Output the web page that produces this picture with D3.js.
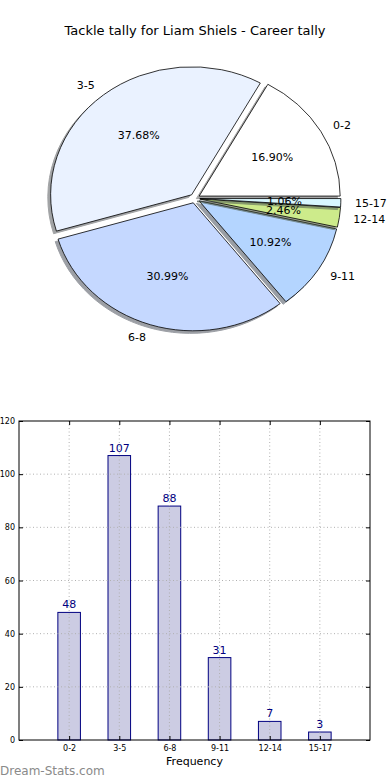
<!DOCTYPE html>
<html><head><meta charset="utf-8">
<script src="https://cdn.jsdelivr.net/npm/d3@7"></script>
<style>body{margin:0;background:#fff}svg{display:block;font-family:"DejaVu Sans",sans-serif}</style>
</head><body><svg id="c" width="390" height="780"></svg>
<script>
const categories = ["0-2","3-5","6-8","9-11","12-14","15-17"];
const counts = [48,107,88,31,7,3];
const sliceColors = ["#ffffff","#eaf2ff","#c5d8ff","#b4d5ff","#cdeb8b","#d8f7ff"];
const yTicks = [0,20,40,60,80,100,120];
const title = "Tackle tally for Liam Shiels - Career tally";
const xLabel = "Frequency";
const watermark = "Dream-Stats.com";

const svg = d3.select("#c");
svg.append("text").attr("x",195).attr("y",35).attr("text-anchor","middle")
  .attr("font-size",13).attr("fill","#000").text(title);

// ---- Pie ----
const cx = 194.8, cy = 198.4, rx = 141, ry = 128, expl = 0.036;
const sy = ry/rx;
const total = d3.sum(counts);
const pie = d3.pie().sort(null).startAngle(Math.PI/2).endAngle(Math.PI/2 - 2*Math.PI);
const arcs = pie(counts);
const arc = d3.arc().innerRadius(0).outerRadius(rx);
const g = svg.append("g").attr("transform",`translate(${cx},${cy}) scale(1,${sy})`);
function darken(c){const r=d3.rgb(c);return d3.rgb(r.r*0.3,r.g*0.3,r.b*0.3).toString();}
arcs.forEach((a,i)=>{
  const m=(a.startAngle+a.endAngle)/2;
  const ox=Math.sin(m)*expl*rx, oy=-Math.cos(m)*expl*rx;
  g.append("path").attr("d",arc(a))
    .attr("transform",`translate(${ox-0.02*rx},${oy+0.02*rx})`)
    .attr("fill",darken(sliceColors[i])).attr("stroke",darken(sliceColors[i]))
    .attr("opacity",0.5).attr("vector-effect","non-scaling-stroke");
  g.append("path").attr("d",arc(a))
    .attr("transform",`translate(${ox},${oy})`)
    .attr("fill",sliceColors[i]).attr("stroke","#000").attr("stroke-width",0.8)
    .attr("vector-effect","non-scaling-stroke");
});
const lg = svg.append("g").attr("transform",`translate(${cx},${cy})`);
arcs.forEach((a,i)=>{
  const m=(a.startAngle+a.endAngle)/2;
  const ox=Math.sin(m)*expl*rx, oy=-Math.cos(m)*expl*ry;
  const lx=ox+1.1*rx*Math.sin(m), ly=oy-1.1*ry*Math.cos(m);
  lg.append("text").attr("x",lx).attr("y",ly).attr("dy","0.35em")
    .attr("text-anchor",lx>0?"start":"end").attr("font-size",11).text(categories[i]);
  const px=ox+0.6*rx*Math.sin(m), py=oy-0.6*ry*Math.cos(m);
  lg.append("text").attr("x",px).attr("y",py).attr("dy","0.35em")
    .attr("text-anchor","middle").attr("font-size",11)
    .text((counts[i]/total*100).toFixed(2)+"%");
});

// ---- Bar chart ----
const L=19,R=370,T=421,B=740;
const x = d3.scaleLinear().domain([-1,6]).range([L,R]);
const y = d3.scaleLinear().domain([0,120]).range([B,T]);
const bw = (x(0.45)-x(0));
const bg = svg.append("g");
bg.selectAll("rect.bar").data(counts).enter().append("rect")
  .attr("x",(d,i)=>x(i)-bw/2).attr("y",d=>y(d))
  .attr("width",bw).attr("height",d=>B-y(d))
  .attr("fill","#ccccE3").attr("stroke","#000080").attr("stroke-width",1);
const gridC="#b0b0b0";
yTicks.slice(1,-1).forEach(t=>{
  bg.append("line").attr("x1",L).attr("x2",R).attr("y1",y(t)).attr("y2",y(t))
    .attr("stroke",gridC).attr("stroke-dasharray","1,2.5");
});
categories.forEach((c,i)=>{
  bg.append("line").attr("x1",x(i)).attr("x2",x(i)).attr("y1",T).attr("y2",B)
    .attr("stroke",gridC).attr("stroke-dasharray","1,2.5");
});
bg.selectAll("text.val").data(counts).enter().append("text")
  .attr("x",(d,i)=>x(i)).attr("y",d=>y(d)-4).attr("text-anchor","middle")
  .attr("font-size",11).attr("fill","#000080").text(d=>d);
bg.append("rect").attr("x",L).attr("y",T).attr("width",R-L).attr("height",B-T)
  .attr("fill","none").attr("stroke","#000").attr("stroke-width",1);
const ya = d3.axisLeft(y).tickValues(yTicks).tickSizeInner(-4).tickSizeOuter(0).tickPadding(4);
const yg = svg.append("g").attr("transform",`translate(${L},0)`).call(ya);
yg.select(".domain").remove();
yg.selectAll("text").attr("font-size",8).attr("font-family","DejaVu Sans");
const ya2 = d3.axisRight(y).tickValues(yTicks).tickSizeInner(-4).tickSizeOuter(0).tickFormat("");
const yg2 = svg.append("g").attr("transform",`translate(${R},0)`).call(ya2);
yg2.select(".domain").remove();
const xa = d3.axisBottom(x).tickValues(d3.range(categories.length)).tickFormat(i=>categories[i])
  .tickSizeInner(-4).tickSizeOuter(0).tickPadding(5);
const xg = svg.append("g").attr("transform",`translate(0,${B})`).call(xa);
xg.select(".domain").remove();
xg.selectAll("text").attr("font-size",8).attr("font-family","DejaVu Sans");
const xa2 = d3.axisTop(x).tickValues(d3.range(categories.length)).tickFormat("").tickSizeInner(-4).tickSizeOuter(0);
const xg2 = svg.append("g").attr("transform",`translate(0,${T})`).call(xa2);
xg2.select(".domain").remove();
svg.append("text").attr("x",x(2.5)).attr("y",765).attr("text-anchor","middle")
  .attr("font-size",11).text(xLabel);
svg.append("text").attr("x",0).attr("y",775).attr("font-size",12)
  .attr("fill","#8a8a8a").text(watermark);
</script></body></html>
